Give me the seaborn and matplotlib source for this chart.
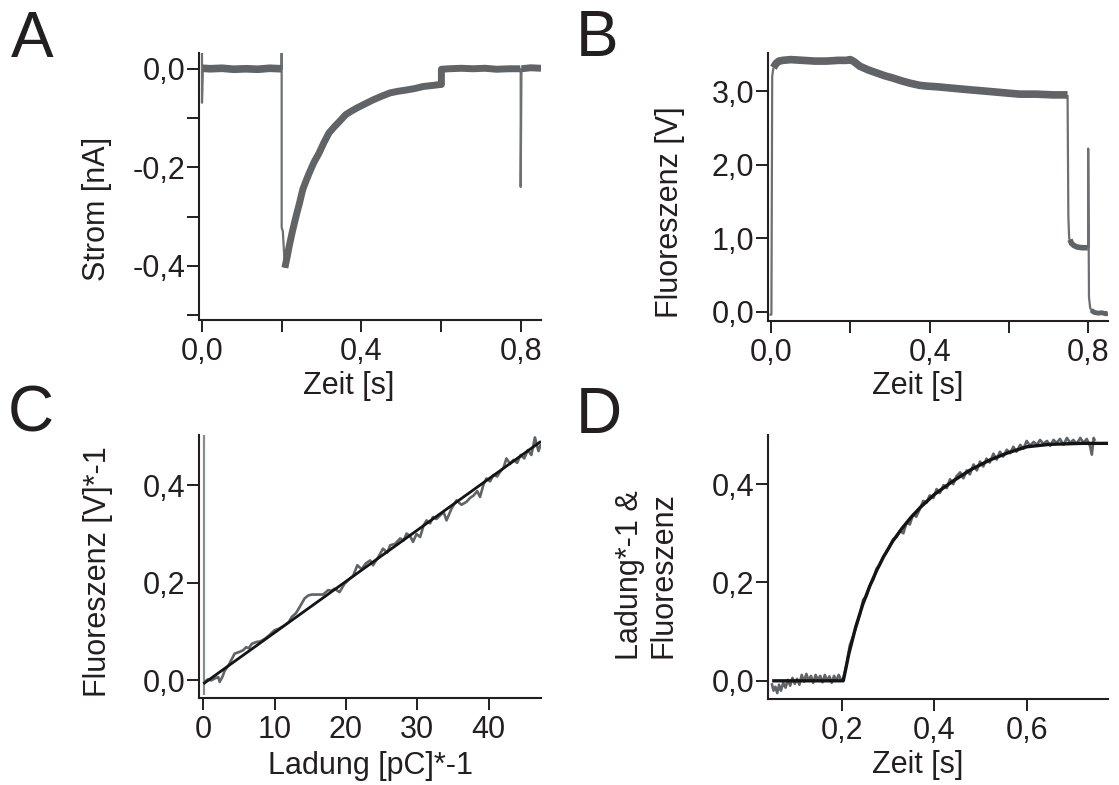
import matplotlib
matplotlib.use("Agg")
import matplotlib.pyplot as plt
from matplotlib.ticker import FixedLocator
import seaborn as sns

# ---------------- Panel A: current trace (nA) vs time (s) ----------------
a_on_t = [0.0, 0.0, 0.002]                       # artefact at trace start
a_on_v = [0.033, -0.069, 0.0]
a_base_t = [0.002, 0.02, 0.05, 0.08, 0.11, 0.14, 0.17, 0.199]
a_base_v = [0.001, 0.0, 0.001, -0.001, 0.0, -0.001, 0.001, 0.0]
a_step_t = [0.199, 0.2, 0.2, 0.2, 0.203, 0.208]   # voltage step at 0.2 s
a_step_v = [0.0, 0.0, 0.033, -0.322, -0.33, -0.404]
a_decay_t = [0.208, 0.213, 0.219, 0.227, 0.236, 0.245, 0.253, 0.261, 0.269,
             0.281, 0.294, 0.306, 0.319, 0.332, 0.345, 0.361, 0.375, 0.388,
             0.41, 0.43, 0.45, 0.472, 0.49, 0.514, 0.535, 0.555, 0.577, 0.598,
             0.601, 0.601, 0.62, 0.65, 0.68, 0.71, 0.74, 0.77, 0.799]
a_decay_v = [-0.404, -0.385, -0.360, -0.330, -0.300, -0.272, -0.245, -0.228,
             -0.212, -0.190, -0.171, -0.150, -0.130, -0.118, -0.107, -0.093,
             -0.086, -0.080, -0.071, -0.063, -0.056, -0.049, -0.046, -0.043,
             -0.040, -0.036, -0.034, -0.032, -0.032, -0.001, 0.0, 0.001,
             0.0, 0.001, -0.001, 0.0, 0.0]
a_off_t = [0.799, 0.8, 0.8, 0.802]               # artefact at 0.8 s
a_off_v = [0.0, 0.0, -0.24, 0.0]
a_tail_t = [0.802, 0.825, 0.851]
a_tail_v = [0.0, 0.002, 0.001]

# ---------------- Panel B: fluorescence (V) vs time (s) ----------------
b_rise_t = [-0.004, 0.001, 0.003, 0.006]
b_rise_v = [-0.04, -0.04, 3.2, 3.32]
b_main_t = [0.006, 0.013, 0.02, 0.03, 0.05, 0.08, 0.11, 0.14, 0.17, 0.19,
            0.20, 0.21, 0.224, 0.245, 0.266, 0.287, 0.307, 0.33, 0.35, 0.375,
            0.392, 0.42, 0.459, 0.5, 0.543, 0.585, 0.627, 0.67, 0.711, 0.748]
b_main_v = [3.32, 3.38, 3.41, 3.42, 3.43, 3.42, 3.41, 3.41, 3.42, 3.42,
            3.43, 3.40, 3.34, 3.29, 3.25, 3.21, 3.18, 3.14, 3.11, 3.08,
            3.07, 3.06, 3.04, 3.02, 3.00, 2.98, 2.96, 2.96, 2.95, 2.95]
b_drop_t = [0.748, 0.750, 0.752, 0.756]
b_drop_v = [2.95, 1.3, 1.0, 0.94]
b_low_t = [0.754, 0.758, 0.764, 0.772, 0.785, 0.799]
b_low_v = [0.98, 0.93, 0.90, 0.88, 0.87, 0.87]
b_spike_t = [0.799, 0.8, 0.8, 0.802, 0.805, 0.81]
b_spike_v = [0.87, 0.87, 2.22, 0.2, 0.05, 0.0]
b_tail_t = [0.808, 0.815, 0.825, 0.835, 0.845, 0.85]
b_tail_v = [0.02, -0.01, -0.02, -0.015, -0.03, -0.02]

# ---------------- Panel C: inverted fluorescence vs inverted charge ----------------
c_art_q = [0.1, 0.1]
c_art_v = [0.52, -0.03]
c_q = [0.2, 0.6, 1.1, 1.6, 2.1, 2.3, 2.7, 3.0, 3.5, 3.9, 4.4, 5.0, 5.6, 6.0,
       6.4, 6.8, 7.5, 8.0, 8.6, 9.2, 10.0, 10.6, 11.4, 12.0, 12.4, 13.0, 13.5,
       14.2, 14.7, 15.2, 16.0, 16.8, 17.5, 18.0, 18.4, 19.1, 19.8, 20.5, 21.0,
       21.6, 22.2, 22.8, 23.4, 23.8, 24.5, 25.2, 25.8, 26.2, 26.9, 27.6, 28.1,
       28.5, 29.0, 29.4, 29.9, 30.4, 30.9, 31.3, 31.8, 32.2, 32.7, 33.2, 33.7,
       34.1, 34.8, 35.5, 36.2, 36.9, 37.4, 37.9, 38.4, 38.8, 39.3, 39.7, 40.2,
       40.7, 41.2, 41.6, 42.1, 42.5, 43.0, 43.5, 44.0, 44.5, 45.0, 45.5, 46.0,
       46.5, 47.0, 47.35]
c_v = [-0.003, 0.002, 0.0, 0.004, 0.007, -0.003, 0.008, 0.020, 0.030, 0.041,
       0.055, 0.058, 0.062, 0.068, 0.066, 0.075, 0.079, 0.080, 0.085, 0.092,
       0.103, 0.106, 0.113, 0.120, 0.130, 0.138, 0.150, 0.168, 0.174, 0.176,
       0.176, 0.176, 0.185, 0.184, 0.188, 0.181, 0.198, 0.208, 0.214, 0.236,
       0.228, 0.240, 0.246, 0.236, 0.252, 0.270, 0.262, 0.277, 0.280, 0.291,
       0.287, 0.301, 0.296, 0.284, 0.300, 0.294, 0.318, 0.328, 0.322, 0.335,
       0.331, 0.338, 0.345, 0.328, 0.352, 0.369, 0.360, 0.366, 0.374, 0.379,
       0.388, 0.376, 0.402, 0.414, 0.408, 0.421, 0.418, 0.427, 0.436, 0.455,
       0.444, 0.452, 0.446, 0.462, 0.455, 0.472, 0.462, 0.498, 0.470, 0.485]
c_fit_q = [0.0, 47.35]
c_fit_v = [-0.007, 0.490]

# ---------------- Panel D: normalised charge & fluorescence vs time ----------------
d_t = [0.048, 0.052, 0.056, 0.060, 0.064, 0.068, 0.073, 0.078, 0.083, 0.088,
       0.093, 0.098, 0.103, 0.108, 0.113, 0.118, 0.123, 0.128, 0.133, 0.138,
       0.143, 0.148, 0.153, 0.158, 0.163, 0.168, 0.173, 0.178, 0.183, 0.188,
       0.193, 0.198, 0.203, 0.210, 0.217, 0.224, 0.232, 0.239, 0.246, 0.253,
       0.261, 0.268, 0.275, 0.282, 0.290, 0.297, 0.304, 0.311, 0.318, 0.326,
       0.333, 0.340, 0.347, 0.354, 0.361, 0.369, 0.376, 0.383, 0.390, 0.398,
       0.405, 0.412, 0.420, 0.427, 0.434, 0.441, 0.448, 0.456, 0.463, 0.470,
       0.477, 0.485, 0.492, 0.499, 0.506, 0.513, 0.520, 0.528, 0.535, 0.542,
       0.549, 0.557, 0.564, 0.571, 0.578, 0.586, 0.593, 0.600, 0.607, 0.615,
       0.622, 0.629, 0.636, 0.644, 0.651, 0.658, 0.665, 0.672, 0.680, 0.687,
       0.694, 0.701, 0.708, 0.716, 0.723, 0.730, 0.737, 0.741, 0.745, 0.748]
d_v = [-0.005, -0.020, -0.012, -0.025, -0.008, -0.020, -0.004, -0.014, 0.002,
       -0.010, 0.006, -0.006, 0.004, -0.008, 0.012, -0.002, 0.014, 0.000,
       0.010, -0.004, 0.012, 0.002, 0.010, -0.003, 0.012, 0.000, 0.009,
       -0.004, 0.010, 0.000, 0.012, 0.002, 0.005, 0.032, 0.072, 0.090, 0.113,
       0.135, 0.165, 0.172, 0.195, 0.206, 0.228, 0.236, 0.253, 0.262, 0.275,
       0.288, 0.292, 0.305, 0.300, 0.322, 0.318, 0.338, 0.334, 0.350, 0.366,
       0.362, 0.377, 0.372, 0.390, 0.382, 0.398, 0.392, 0.410, 0.400, 0.416,
       0.424, 0.412, 0.428, 0.420, 0.440, 0.428, 0.446, 0.436, 0.452, 0.444,
       0.462, 0.450, 0.466, 0.456, 0.470, 0.463, 0.476, 0.466, 0.480, 0.472,
       0.488, 0.478, 0.486, 0.480, 0.490, 0.482, 0.488, 0.478, 0.490, 0.484,
       0.492, 0.480, 0.494, 0.484, 0.490, 0.482, 0.494, 0.484, 0.492, 0.478,
       0.460, 0.494, 0.488]
d_fit_t = [0.049, 0.203, 0.215, 0.23, 0.245, 0.26, 0.275, 0.29, 0.31, 0.33,
           0.35, 0.37, 0.40, 0.44, 0.48, 0.52, 0.56, 0.60, 0.65, 0.72, 0.776]
d_fit_v = [0.0, 0.0, 0.055, 0.110, 0.155, 0.192, 0.224, 0.252, 0.284, 0.310,
           0.333, 0.353, 0.379, 0.406, 0.430, 0.449, 0.464, 0.476, 0.481,
           0.483, 0.483]

# ---------------- styling ----------------
sns.set_theme(style="ticks")
plt.rcParams["font.family"] = ["Liberation Sans", "DejaVu Sans"]
INK = "#231f20"
TRACE = "#606467"
THIN = "#6c7073"
FIT = "#141414"
FS = 22

fig = plt.figure(figsize=(11.19, 7.85), dpi=100)
W, H = 1119.0, 785.0


def add_axes(x0, y0, x1, y1):
    return fig.add_axes([x0 / W, 1 - y1 / H, (x1 - x0) / W, (y1 - y0) / H])


def trace(ax, x, y, lw, color):
    sns.lineplot(x=x, y=y, ax=ax, sort=False, estimator=None, color=color,
                 linewidth=lw, legend=False, solid_capstyle="butt",
                 solid_joinstyle="round")


def style(ax):
    sns.despine(ax=ax)
    for side in ("left", "bottom"):
        ax.spines[side].set_linewidth(1.5)
        ax.spines[side].set_color(INK)
    ax.tick_params(axis="both", which="both", direction="out", length=8.5,
                   width=1.4, colors=INK, labelsize=FS, labelcolor=INK)
    ax.tick_params(axis="y", which="both", pad=1.5)
    ax.tick_params(axis="x", which="both", pad=4)
    ax.set_xlabel("")
    ax.set_ylabel("")
    ax.set_facecolor("white")


# Panel A
axA = add_axes(199, 53, 541, 320)
trace(axA, a_on_t, a_on_v, 1.6, THIN)
trace(axA, a_step_t, a_step_v, 1.6, THIN)
trace(axA, a_off_t, a_off_v, 1.6, THIN)
trace(axA, a_base_t, a_base_v, 5.5, TRACE)
trace(axA, a_decay_t, a_decay_v, 5.0, TRACE)
trace(axA, a_tail_t, a_tail_v, 5.0, TRACE)
axA.set_xlim(-0.0075, 0.851)
axA.set_ylim(-0.51, 0.032)
axA.set_xticks([0.0, 0.4, 0.8], ["0,0", "0,4", "0,8"])
axA.xaxis.set_minor_locator(FixedLocator([0.2, 0.6]))
axA.set_yticks([0.0, -0.2, -0.4], ["0,0", "-0,2", "-0,4"])
axA.yaxis.set_minor_locator(FixedLocator([-0.1, -0.3, -0.5]))
style(axA)

# Panel B
axB = add_axes(768, 53, 1108, 321)
trace(axB, b_rise_t, b_rise_v, 1.6, THIN)
trace(axB, b_drop_t, b_drop_v, 1.6, THIN)
trace(axB, b_spike_t, b_spike_v, 1.6, THIN)
trace(axB, b_main_t, b_main_v, 5.5, TRACE)
trace(axB, b_low_t, b_low_v, 4.0, TRACE)
trace(axB, b_tail_t, b_tail_v, 3.5, TRACE)
axB.set_xlim(-0.0076, 0.85)
axB.set_ylim(-0.127, 3.52)
axB.set_xticks([0.0, 0.4, 0.8], ["0,0", "0,4", "0,8"])
axB.xaxis.set_minor_locator(FixedLocator([0.2, 0.6]))
axB.set_yticks([0.0, 1.0, 2.0, 3.0], ["0,0", "1,0", "2,0", "3,0"])
style(axB)

# Panel C
axC = add_axes(199, 435, 541, 698)
trace(axC, c_art_q, c_art_v, 1.6, "#8a8d90")
trace(axC, c_q, c_v, 1.9, TRACE)
trace(axC, c_fit_q, c_fit_v, 2.0, FIT)
axC.set_xlim(-0.6, 47.35)
axC.set_ylim(-0.036, 0.503)
axC.set_xticks([0, 10, 20, 30, 40], ["0", "10", "20", "30", "40"])
axC.set_yticks([0.0, 0.2, 0.4], ["0,0", "0,2", "0,4"])
style(axC)

# Panel D
axD = add_axes(768, 435, 1108, 699)
trace(axD, d_t, d_v, 1.9, TRACE)
trace(axD, d_fit_t, d_fit_v, 2.4, FIT)
axD.set_xlim(0.04, 0.776)
axD.set_ylim(-0.037, 0.5)
axD.set_xticks([0.2, 0.4, 0.6], ["0,2", "0,4", "0,6"])
axD.set_yticks([0.0, 0.2, 0.4], ["0,0", "0,2", "0,4"])
style(axD)

# Axis titles
txt = dict(fontsize=FS, color=INK, ha="center", va="center")
fig.text(97 / W, 1 - 209 / H, "Strom [nA]", rotation=90, **txt)
fig.text(349 / W, 1 - 386 / H, "Zeit [s]", **txt)
fig.text(670 / W, 1 - 212 / H, "Fluoreszenz [V]", rotation=90, **txt)
fig.text(918 / W, 1 - 386 / H, "Zeit [s]", **txt)
fig.text(98 / W, 1 - 572 / H, "Fluoreszenz [V]*-1", rotation=90, **txt)
fig.text(371 / W, 1 - 766 / H, "Ladung [pC]*-1", **txt)
fig.text(647 / W, 1 - 575 / H, "Ladung*-1 &\nFluoreszenz", rotation=90,
         multialignment="center", linespacing=1.15, **txt)
fig.text(918 / W, 1 - 765 / H, "Zeit [s]", **txt)

# Panel letters
letter = dict(fontsize=46, color=INK, ha="left", va="baseline")
fig.text(11 / W, 1 - 57 / H, "A", **letter)
fig.text(576 / W, 1 - 56 / H, "B", **letter)
fig.text(8 / W, 1 - 431 / H, "C", **letter)
fig.text(576 / W, 1 - 433 / H, "D", **letter)

fig.savefig("out.png", dpi=100, facecolor="white")
